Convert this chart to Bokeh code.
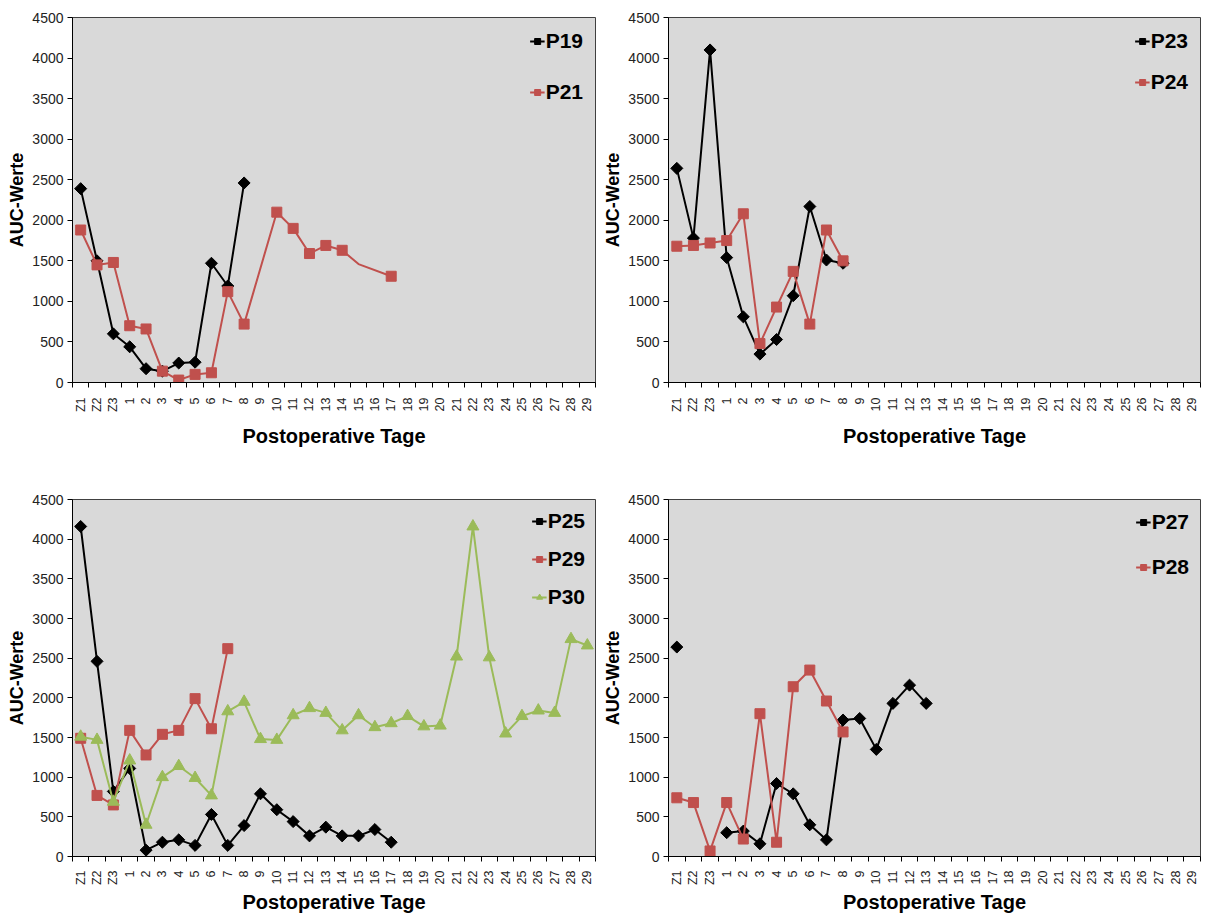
import math
from bokeh.plotting import figure
from bokeh.layouts import gridplot
from bokeh.models import FixedTicker, Range1d, Legend, LegendItem
from bokeh.embed import file_html
from bokeh.resources import INLINE

# ---------------- data ----------------
categories = ["Z1", "Z2", "Z3"] + [str(i) for i in range(1, 30)]
N = None

# panel 1
p19 = [2390, 1500, 600, 440, 170, 140, 240, 250, 1470, 1190, 2460]
p21 = [1880, 1450, 1480, 700, 660, 140, 30, 100, 120, 1120, 720, N, 2100, 1900, 1590, 1690, 1630, 1460, N, 1310]
p21_marker_off = ["15"]  # line passes through, no marker drawn

# panel 2
p23 = [2640, 1780, 4100, 1540, 810, 350, 530, 1070, 2170, 1510, 1470]
p24 = [1680, 1690, 1720, 1750, 2080, 480, 930, 1370, 720, 1880, 1500]

# panel 3
p25 = [4160, 2460, 820, 1110, 80, 180, 210, 140, 530, 140, 390, 790, 590, 440, 260, 370, 260, 260, 340, 180]
p29 = [1490, 770, 650, 1590, 1280, 1540, 1590, 1990, 1610, 2620]
p30 = [1510, 1470, 690, 1210, 400, 1000, 1140, 990, 770, 1830, 1950, 1480, 1470, 1780, 1870, 1810, 1590,
       1780, 1630, 1680, 1770, 1640, 1650, 2520, 4160, 2510, 1550, 1770, 1840, 1810, 2740, 2660]

# panel 4
p27 = [2640, N, N, 300, 320, 160, 920, 790, 400, 210, 1720, 1740, 1350, 1930, 2160, 1930]
p28 = [740, 680, 70, 680, 220, 1800, 180, 2140, 2350, 1960, 1570]

y_ticks = [0, 500, 1000, 1500, 2000, 2500, 3000, 3500, 4000, 4500]

# ---------------- styles ----------------
BLACK = "#000000"
RED = "#C0504D"
GREEN = "#9BBB59"
SANS = "Liberation Sans, Arial, sans-serif"

STY = {
    "P19": (BLACK, "square", 8.5, math.pi / 4), "P23": (BLACK, "square", 8.5, math.pi / 4),
    "P25": (BLACK, "square", 8.5, math.pi / 4), "P27": (BLACK, "square", 8.5, math.pi / 4),
    "P21": (RED, "square", 10, 0), "P24": (RED, "square", 10, 0), "P29": (RED, "square", 10, 0),
    "P28": (RED, "square", 10, 0),
    "P30": (GREEN, "triangle", 12, 0),
}


def make_fig(width, height, bl, bt, br, bb, lstandoff, xstandoff):
    p = figure(width=width, height=height, output_backend="svg", toolbar_location=None,
               x_range=Range1d(0, len(categories)), y_range=Range1d(0, 4500),
               min_border_left=bl, min_border_top=bt, min_border_right=br, min_border_bottom=bb)
    p.background_fill_color = "#D9D9D9"
    p.border_fill_color = "white"
    p.outline_line_color = "#404040"
    p.outline_line_width = 1
    p.xgrid.visible = False
    p.ygrid.visible = False

    centers = [i + 0.5 for i in range(len(categories))]
    xt = FixedTicker(ticks=centers, minor_ticks=list(range(len(categories) + 1)))
    p.xaxis.ticker = xt
    p.xaxis.major_label_overrides = {c: lab for c, lab in zip(centers, categories)}
    p.xaxis.major_label_orientation = math.pi / 2
    p.xaxis.major_tick_line_color = None
    p.xaxis.major_tick_out = 0
    p.xaxis.major_tick_in = 0
    p.xaxis.minor_tick_line_color = BLACK
    p.xaxis.minor_tick_out = 5
    p.xaxis.minor_tick_in = 0
    p.xaxis.axis_line_color = BLACK
    p.xaxis.major_label_text_font = SANS
    p.xaxis.major_label_text_font_size = "12.5px"
    p.xaxis.major_label_text_color = "#222222"
    p.xaxis.major_label_standoff = lstandoff
    p.xaxis.axis_label = "Postoperative Tage"
    p.xaxis.axis_label_text_font = SANS
    p.xaxis.axis_label_text_font_style = "bold"
    p.xaxis.axis_label_text_font_size = "20px"
    p.xaxis.axis_label_text_color = BLACK
    p.xaxis.axis_label_standoff = xstandoff

    p.yaxis.ticker = FixedTicker(ticks=y_ticks, minor_ticks=[])
    p.yaxis.axis_line_color = BLACK
    p.yaxis.major_tick_line_color = BLACK
    p.yaxis.major_tick_out = 5
    p.yaxis.major_tick_in = 0
    p.yaxis.major_label_text_font = SANS
    p.yaxis.major_label_text_font_size = "14px"
    p.yaxis.major_label_text_color = "#222222"
    p.yaxis.major_label_standoff = 4
    p.yaxis.axis_label = "AUC-Werte"
    p.yaxis.axis_label_text_font = SANS
    p.yaxis.axis_label_text_font_style = "bold"
    p.yaxis.axis_label_text_font_size = "18px"
    p.yaxis.axis_label_text_color = BLACK
    p.yaxis.axis_label_standoff = 2
    return p


def add_series(p, name, values, connect_gaps, marker_off=()):
    color, marker, size, ang = STY[name]
    xs, ys = [], []
    for i, v in enumerate(values):
        if v is None:
            if not connect_gaps:
                xs.append(float("nan"))
                ys.append(float("nan"))
            continue
        xs.append(i + 0.5)
        ys.append(v)
    line = p.line(xs, ys, line_color=color, line_width=2)
    mx = [i + 0.5 for i, v in enumerate(values) if v is not None and categories[i] not in marker_off]
    my = [v for i, v in enumerate(values) if v is not None and categories[i] not in marker_off]
    sc = p.scatter(mx, my, marker=marker, size=size, angle=ang, fill_color=color, line_color=color)
    return LegendItem(label=name, renderers=[line, sc])


def add_legend(p, items, spacing, margin_top):
    leg = Legend(items=items, location="top_right")
    leg.background_fill_alpha = 0
    leg.border_line_color = None
    leg.label_text_font = SANS
    leg.label_text_font_style = "bold"
    leg.label_text_font_size = "21px"
    leg.label_text_color = BLACK
    leg.label_standoff = 1
    leg.glyph_width = 15
    leg.glyph_height = 20
    leg.spacing = spacing
    leg.padding = 4
    leg.margin = margin_top
    p.add_layout(leg)


H1 = 455
# row 1
p1 = make_fig(600, H1, 72, 17, 5, H1 - 17 - 365, 10, 10)
it = [add_series(p1, "P19", p19, True), add_series(p1, "P21", p21, True, p21_marker_off)]
add_legend(p1, it, 27, 12)

p2 = make_fig(604, H1, 68, 17, 4, H1 - 17 - 365, 10, 10)
it = [add_series(p2, "P23", p23, True), add_series(p2, "P24", p24, True)]
add_legend(p2, it, 17, 12)

# row 2
H2 = 916 - H1
p3 = make_fig(600, H2, 72, 499 - H1, 5, H2 - (499 - H1) - 358, 9, 3)
it = [add_series(p3, "P25", p25, True), add_series(p3, "P29", p29, True), add_series(p3, "P30", p30, True)]
add_legend(p3, it, 14, 10)

p4 = make_fig(604, H2, 68, 499 - H1, 4, H2 - (499 - H1) - 358, 9, 3)
it = [add_series(p4, "P27", p27, False), add_series(p4, "P28", p28, False)]
add_legend(p4, it, 21, 11)

grid = gridplot([[p1, p2], [p3, p4]], toolbar_location=None)

open("out.html", "w").write(file_html(grid, INLINE))
